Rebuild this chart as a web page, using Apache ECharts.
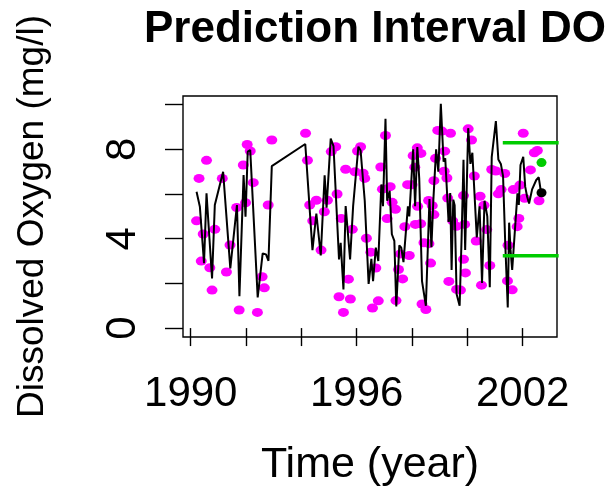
<!DOCTYPE html>
<html>
<head>
<meta charset="utf-8">
<script src="https://cdn.jsdelivr.net/npm/echarts@6/dist/echarts.min.js"></script>
<style>
html, body { margin: 0; padding: 0; background: #fff; }
#main { width: 610px; height: 486px; }
</style>
</head>
<body>
<div id="main"></div>
<script>
// fitted series (black line)
const lineYears = [
  1990.21, 1990.33, 1990.48, 1990.57, 1990.77, 1990.87, 1991.17, 1991.43, 1991.67, 1991.76,
  1991.91, 1991.98, 1992.06, 1992.15, 1992.42, 1992.60, 1992.72, 1992.81, 1992.93, 1994.14,
  1994.40, 1994.54, 1994.70, 1994.84, 1994.91, 1995.06, 1995.16, 1995.36, 1995.42, 1995.52,
  1995.60, 1995.76, 1995.87, 1996.06, 1996.14, 1996.29, 1996.43, 1996.53, 1996.59, 1996.69,
  1996.78, 1996.89, 1996.95, 1997.04, 1997.10, 1997.19, 1997.27, 1997.36, 1997.43, 1997.54,
  1997.61, 1997.69, 1997.85, 1997.90, 1998.04, 1998.11, 1998.19, 1998.26, 1998.36, 1998.50,
  1998.63, 1998.70, 1998.77, 1998.87, 1998.95, 1999.04, 1999.14, 1999.20, 1999.32, 1999.38,
  1999.43, 1999.49, 1999.54, 1999.61, 1999.72, 1999.79, 1999.86, 1999.92, 2000.03, 2000.11,
  2000.18, 2000.34, 2000.44, 2000.53, 2000.62, 2000.72, 2000.81, 2000.88, 2001.03, 2001.12,
  2001.21, 2001.29, 2001.37, 2001.46, 2001.51, 2001.56, 2001.62, 2001.81, 2001.86, 2001.92,
  2002.02, 2002.09, 2002.16, 2002.23, 2002.34, 2002.49, 2002.58, 2002.65, 2002.68
];
const lineValues = [
  6.10, 5.43, 2.90, 6.03, 2.22, 5.51, 7.00, 2.67, 5.51, 1.43,
  6.85, 4.99, 7.90, 7.97, 1.37, 3.34, 3.30, 3.01, 7.25, 8.24,
  3.49, 5.13, 3.25, 6.84, 5.39, 8.48, 8.15, 3.07, 3.82, 1.73,
  5.46, 3.07, 5.46, 8.12, 7.95, 5.70, 1.98, 3.10, 2.10, 3.60,
  3.00, 6.43, 5.46, 9.37, 5.70, 6.15, 4.20, 3.90, 0.97, 3.70,
  3.60, 2.95, 5.45, 5.00, 8.00, 5.45, 8.10, 6.70, 2.10, 1.00,
  5.78, 3.62, 5.73, 8.00, 7.00, 10.04, 7.45, 7.60, 4.75, 6.05,
  2.60, 5.75, 5.50, 1.53, 1.00, 4.00, 7.53, 3.50, 8.95, 7.35,
  7.85, 4.06, 5.45, 2.02, 5.70, 5.00, 1.83, 7.65, 9.27, 7.55,
  7.35, 6.80, 3.75, 0.92, 4.72, 3.50, 2.60, 6.03, 5.51, 7.30,
  7.67, 6.33, 5.88, 5.58, 6.21, 6.63, 6.75, 6.18, 6.06
];

// observed DO (magenta points)
const obsYears = [
  1990.21, 1990.30, 1990.38, 1990.45, 1990.57, 1990.69, 1990.77, 1990.87, 1991.14, 1991.29,
  1991.42, 1991.66, 1991.75, 1991.90, 1991.98, 1992.04, 1992.15, 1992.26, 1992.41, 1992.58,
  1992.66, 1992.80, 1992.93, 1994.15, 1994.22, 1994.30, 1994.41, 1994.54, 1994.71, 1994.83,
  1994.94, 1995.08, 1995.24, 1995.29, 1995.36, 1995.44, 1995.52, 1995.60, 1995.70, 1995.77,
  1995.84, 1995.94, 1996.03, 1996.14, 1996.23, 1996.29, 1996.35, 1996.51, 1996.57, 1996.69,
  1996.78, 1996.87, 1996.93, 1997.04, 1997.10, 1997.21, 1997.28, 1997.40, 1997.42, 1997.51,
  1997.58, 1997.66, 1997.74, 1997.84, 1997.90, 1998.00, 1998.04, 1998.10, 1998.12, 1998.19,
  1998.20, 1998.31, 1998.32, 1998.36, 1998.43, 1998.50, 1998.60, 1998.61, 1998.67, 1998.73,
  1998.79, 1998.79, 1998.85, 1998.93, 1999.08, 1999.16, 1999.18, 1999.26, 1999.29, 1999.33,
  1999.39, 1999.47, 1999.60, 1999.61, 1999.75, 1999.86, 1999.86, 1999.90, 1999.93, 2000.03,
  2000.15, 2000.25, 2000.32, 2000.46, 2000.51, 2000.60, 2000.70, 2000.81, 2000.88, 2001.03,
  2001.12, 2001.22, 2001.35, 2001.45, 2001.47, 2001.62, 2001.66, 2001.80, 2001.86, 2001.90,
  2002.02, 2002.07, 2002.28, 2002.42, 2002.53, 2002.59
];
const obsValues = [
  4.80, 6.70, 3.00, 4.21, 7.51, 2.70, 1.70, 4.42, 6.70, 2.51,
  3.72, 5.40, 0.81, 7.30, 5.61, 8.22, 7.93, 6.51, 0.70, 2.30,
  1.80, 5.51, 8.42, 8.72, 7.51, 5.51, 4.80, 5.72, 3.49, 5.21,
  5.72, 7.90, 8.12, 6.00, 1.40, 4.91, 0.70, 7.11, 2.19, 1.30,
  4.42, 7.00, 7.93, 8.12, 6.93, 6.70, 4.02, 3.40, 0.90, 2.69,
  1.22, 7.21, 6.22, 8.62, 4.90, 6.33, 5.63, 5.32, 1.23, 2.62,
  3.32, 2.20, 4.54, 6.42, 3.25, 6.42, 7.72, 7.20, 4.64, 8.07,
  5.45, 4.67, 7.82, 1.08, 3.82, 0.83, 5.71, 3.78, 2.91, 5.48,
  5.08, 6.60, 7.60, 8.85, 8.82, 7.02, 7.92, 6.72, 5.82, 2.09,
  8.72, 4.80, 4.56, 1.73, 1.70, 3.08, 5.93, 4.64, 2.47, 8.92,
  8.42, 6.81, 3.90, 5.90, 1.92, 5.50, 4.41, 2.80, 7.10, 7.03,
  6.01, 6.20, 6.92, 2.11, 3.71, 1.71, 6.20, 4.54, 4.91, 6.40,
  8.72, 5.81, 7.08, 7.85, 7.95, 5.70
];

// prediction interval
const intervalYears = [2001.28, 2003.3];
const upperLimit = 8.30;
const lowerLimit = 3.24;
const predYear = 2002.68;
const predValue = 7.41;
const lastObsValue = 6.06;

const xTicks = [1990, 1992, 1994, 1996, 1998, 2000, 2002];
const xTickLabels = [1990, 1996, 2002];
const yTicks = [0, 2, 4, 6, 8, 10];
const yTickLabels = [0, 4, 8];

const FONT = 'Liberation Sans, Arial, Helvetica, sans-serif';

let chart = echarts.init(document.getElementById('main'));

let option = {
  animation: false,
  backgroundColor: '#fff',
  title: {
    text: 'Prediction Interval DO',
    left: 370,
    top: 3,
    textAlign: 'center',
    textStyle: { fontFamily: FONT, fontSize: 44, fontWeight: 'bold', color: '#000' }
  },
  grid: {
    left: 183, top: 96, right: 53, bottom: 149,
    show: true, borderColor: '#000', borderWidth: 1.4,
    containLabel: false, outerBoundsMode: 'none'
  },
  xAxis: {
    type: 'value',
    min: 1989.72,
    max: 2003.24,
    splitLine: { show: false },
    axisLine: { show: false },
    axisTick: { show: true, length: 18, customValues: xTicks, lineStyle: { color: '#000', width: 1.4 } },
    axisLabel: {
      customValues: xTickLabels, margin: 36,
      formatter: v => String(v),
      fontFamily: FONT, fontSize: 42, color: '#000'
    },
    name: 'Time (year)',
    nameLocation: 'middle',
    nameGap: 107,
    nameTextStyle: { fontFamily: FONT, fontSize: 43, color: '#000' }
  },
  yAxis: {
    type: 'value',
    min: -0.40,
    max: 10.39,
    splitLine: { show: false },
    axisLine: { show: false },
    axisTick: { show: true, length: 18, customValues: yTicks, lineStyle: { color: '#000', width: 1.4 } },
    axisLabel: {
      customValues: yTickLabels, rotate: 90, margin: 39,
      formatter: v => String(v),
      fontFamily: FONT, fontSize: 42, color: '#000'
    },
    name: 'Dissolved Oxygen (mg/l)',
    nameLocation: 'middle',
    nameGap: 132,
    nameTextStyle: { fontFamily: FONT, fontSize: 37, color: '#000' }
  },
  series: [
    {
      name: 'observed',
      type: 'scatter',
      symbol: 'circle',
      symbolSize: [11, 9],
      itemStyle: { color: '#FF00FF', opacity: 1 },
      data: obsYears.map((y, i) => [y, obsValues[i]]),
      z: 2
    },
    {
      name: 'fitted',
      type: 'line',
      showSymbol: false,
      lineStyle: { color: '#000', width: 2 },
      data: lineYears.map((y, i) => [y, lineValues[i]]),
      z: 3
    },
    {
      name: 'upper',
      type: 'line',
      showSymbol: false,
      lineStyle: { color: '#00CC00', width: 3.5 },
      data: intervalYears.map(y => [y, upperLimit]),
      z: 4
    },
    {
      name: 'lower',
      type: 'line',
      showSymbol: false,
      lineStyle: { color: '#00CC00', width: 3.5 },
      data: intervalYears.map(y => [y, lowerLimit]),
      z: 4
    },
    {
      name: 'prediction',
      type: 'scatter',
      symbolSize: [10, 9],
      itemStyle: { color: '#00CC00', opacity: 1 },
      data: [[predYear, predValue]],
      z: 5
    },
    {
      name: 'last',
      type: 'scatter',
      symbolSize: [10, 9],
      itemStyle: { color: '#000', opacity: 1 },
      data: [[predYear, lastObsValue]],
      z: 5
    }
  ]
};

chart.setOption(option);
</script>
</body>
</html>
